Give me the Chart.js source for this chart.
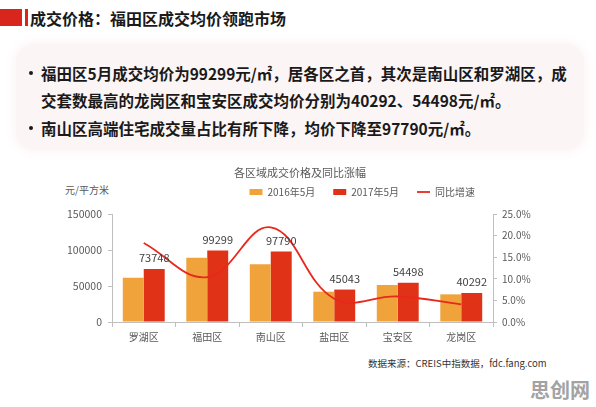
<!DOCTYPE html>
<html lang="zh-CN">
<head>
<meta charset="utf-8">
<title>成交价格：福田区成交均价领跑市场</title>
<script src="https://cdn.jsdelivr.net/npm/chart.js@4.4.1/dist/chart.umd.min.js"></script>
<style>
  html, body { margin: 0; padding: 0; }
  body {
    width: 596px; height: 407px; position: relative; overflow: hidden;
    background: #fff; color: #1a1a1a;
    font-family: "Noto Sans CJK SC", "Noto Sans", sans-serif;
  }
  .mark-big { position: absolute; left: 0; top: 9px; width: 22px; height: 17px; background: #d9261c; }
  .mark-thin { position: absolute; left: 25px; top: 9px; width: 3px; height: 17px; background: #d9261c; }
  h1 {
    position: absolute; left: 30px; top: 7px; margin: 0;
    font-size: 16px; line-height: 22px; font-weight: bold; white-space: nowrap;
  }
  .note {
    position: absolute; left: 16px; top: 44px; width: 568px; height: 106px;
    background: #fcf5f5; border-radius: 18px; box-shadow: 0 0 10px 4px #fdf7f7;
  }
  .note p {
    position: absolute; left: 25px; margin: 0; white-space: nowrap;
    font-size: 15.5px; line-height: 20px; font-weight: bold;
  }
  .note .dot { position: absolute; left: 13px; width: 4px; height: 4px; border-radius: 50%; background: #1a1a1a; }
  #chart { position: absolute; left: 40px; top: 160px; }
  .unit { position: absolute; left: 65px; top: 182px; font-size: 10px; color: #595959; white-space: nowrap; }
  .source { position: absolute; left: 368px; top: 356px; font-size: 9.5px; color: #333; white-space: nowrap; }
  .brand { position: absolute; left: 530px; top: 375px; font-size: 20px; font-weight: bold; color: #a3a3a3; white-space: nowrap; }
</style>
</head>
<body>
<div class="mark-big"></div>
<div class="mark-thin"></div>
<h1>成交价格：福田区成交均价领跑市场</h1>

<div class="note">
  <span class="dot" style="top:27px"></span>
  <p style="top:19px">福田区5月成交均价为99299元/㎡，居各区之首，其次是南山区和罗湖区，成</p>
  <p style="top:46px">交套数最高的龙岗区和宝安区成交均价分别为40292、54498元/㎡。</p>
  <span class="dot" style="top:82px"></span>
  <p style="top:74px">南山区高端住宅成交量占比有所下降，均价下降至97790元/㎡。</p>
</div>

<div class="unit">元/平方米</div>
<canvas id="chart" width="520" height="190"></canvas>
<div class="source">数据来源：CREIS中指数据，fdc.fang.com</div>
<div class="brand">思创网</div>

<script>
// 各区数据（元/平方米，同比 %）
const districts = ['罗湖区', '福田区', '南山区', '盐田区', '宝安区', '龙岗区'];
const price2016 = [61500, 89300, 80100, 42100, 51400, 38400];
const price2017 = [73748, 99299, 97790, 45043, 54498, 40292];
const growth = [18.3, 10.4, 21.9, 5.4, 5.9, 4.1];
const seriesNames = ['2016年5月', '2017年5月', '同比增速'];

const FONT = '"Noto Sans CJK SC", "Noto Sans", sans-serif';
const GREY = '#595959';
const AXIS = '#bfbfbf';

// value labels above the 2017 bars
const valueLabels = {
  id: 'valueLabels',
  afterDatasetsDraw(chart) {
    const ctx = chart.ctx;
    const meta = chart.getDatasetMeta(1);
    ctx.save();
    ctx.font = '11px ' + FONT;
    ctx.fillStyle = '#404040';
    ctx.textAlign = 'center';
    ctx.textBaseline = 'middle';
    meta.data.forEach(function(bar, i) {
      ctx.fillText(String(price2017[i]), bar.x, bar.y - 11);
    });
    ctx.restore();
  }
};

new Chart(document.getElementById('chart'), {
  type: 'bar',
  data: {
    labels: districts,
    datasets: [
      {
        label: seriesNames[0],
        data: price2016,
        backgroundColor: '#f0a23b',
        borderWidth: 0,
        pointStyle: 'rect',
        categoryPercentage: 0.66,
        barPercentage: 1,
        yAxisID: 'y',
        order: 1
      },
      {
        label: seriesNames[1],
        data: price2017,
        backgroundColor: '#e03217',
        borderWidth: 0,
        pointStyle: 'rect',
        categoryPercentage: 0.66,
        barPercentage: 1,
        yAxisID: 'y',
        order: 1
      },
      {
        type: 'line',
        label: seriesNames[2],
        data: growth,
        borderColor: '#e8281c',
        backgroundColor: '#e8281c',
        borderWidth: 1.8,
        pointRadius: 0,
        pointStyle: 'line',
        tension: 0.4,
        fill: false,
        yAxisID: 'y1',
        order: 0
      }
    ]
  },
  options: {
    responsive: false,
    animation: false,
    devicePixelRatio: 1,
    layout: { padding: 0 },
    plugins: {
      title: {
        display: true,
        text: '各区域成交价格及同比涨幅',
        color: GREY,
        font: { family: FONT, size: 11, weight: 'normal', lineHeight: 1.2 },
        padding: { top: 6.6, bottom: -10.8 }
      },
      legend: {
        display: true,
        position: 'top',
        align: 'end',
        fullSize: false,
        weight: 1800,
        labels: {
          usePointStyle: true,
          pointStyleWidth: 13,
          boxHeight: 6,
          padding: 18,
          color: GREY,
          font: { family: FONT, size: 10 },
          sort: function(a, b) { return a.datasetIndex - b.datasetIndex; }
        }
      },
      subtitle: {
        display: true,
        text: ' ',
        font: { size: 1, lineHeight: 1 },
        padding: { top: 0, bottom: 6 }
      },
      tooltip: { enabled: false }
    },
    scales: {
      x: {
        grid: { drawOnChartArea: false, tickLength: 5, color: AXIS },
        border: { color: AXIS },
        ticks: { color: GREY, font: { family: FONT, size: 10 }, padding: 4 },
        afterFit: function(scale) { scale.height = 28; }
      },
      y: {
        position: 'left',
        min: 0,
        max: 150000,
        grid: { drawOnChartArea: false, tickLength: 4, color: AXIS },
        border: { color: AXIS },
        ticks: {
          stepSize: 50000,
          color: GREY,
          font: { family: FONT, size: 10.5 },
          padding: 6,
          callback: function(v) { return String(v); }
        },
        afterFit: function(scale) { scale.width = 72; }
      },
      y1: {
        position: 'right',
        min: 0,
        max: 25,
        grid: { drawOnChartArea: false, tickLength: 4, color: AXIS },
        border: { color: AXIS },
        ticks: {
          stepSize: 5,
          color: GREY,
          font: { family: FONT, size: 10 },
          padding: 5,
          callback: function(v) { return v.toFixed(1) + '%'; }
        },
        afterFit: function(scale) { scale.width = 67; }
      }
    }
  },
  plugins: [valueLabels]
});
</script>
</body>
</html>
